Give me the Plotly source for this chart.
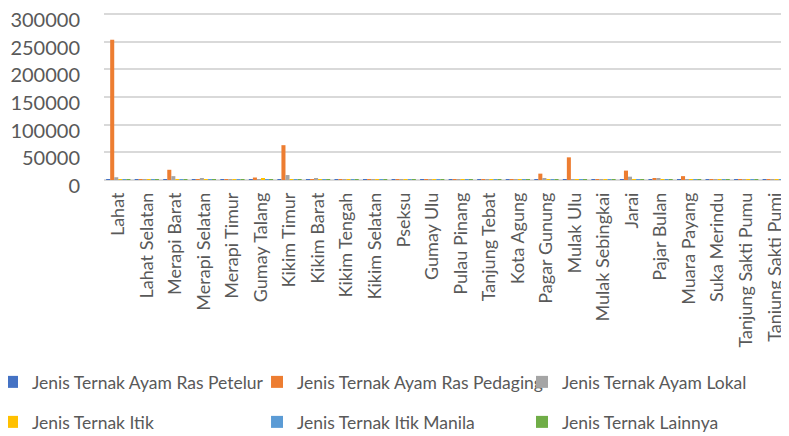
import plotly.graph_objects as go

kecamatan = ['Lahat', 'Lahat Selatan', 'Merapi Barat', 'Merapi Selatan', 'Merapi Timur',
             'Gumay Talang', 'Kikim Timur', 'Kikim Barat', 'Kikim Tengah', 'Kikim Selatan',
             'Pseksu', 'Gumay Ulu', 'Pulau Pinang', 'Tanjung Tebat', 'Kota Agung',
             'Pagar Gunung', 'Mulak Ulu', 'Mulak Sebingkai', 'Jarai', 'Pajar Bulan',
             'Muara Payang', 'Suka Merindu', 'Tanjung Sakti Pumu', 'Tanjung Sakti Pumi']

# nilai per jenis ternak (perkiraan)
ayam_ras_petelur = [600, 500, 600, 500, 500, 500, 600, 500, 500, 500, 500, 500,
                    500, 500, 500, 500, 500, 500, 500, 500, 500, 500, 500, 500]
ayam_ras_pedaging = [254000, 600, 18500, 800, 600, 4500, 63000, 800, 600, 800, 600, 1500,
                     1500, 700, 900, 11500, 41000, 800, 17000, 3500, 7000, 700, 700, 800]
ayam_lokal = [5000, 600, 7000, 3000, 800, 1500, 9000, 2000, 800, 1200, 900, 1200,
              1200, 900, 1000, 2000, 1500, 1200, 6000, 2500, 1500, 800, 800, 900]
itik = [1500, 700, 1500, 800, 700, 3500, 1500, 800, 700, 800, 700, 1500,
        1500, 800, 800, 1000, 800, 700, 1500, 1200, 1000, 800, 800, 1000]
itik_manila = [500, 500, 500, 500, 500, 500, 500, 500, 500, 500, 500, 500,
               500, 500, 500, 500, 500, 500, 500, 500, 500, 500, 500, 500]
lainnya = [600, 600, 600, 600, 600, 600, 600, 600, 600, 600, 600, 600,
           600, 600, 600, 600, 600, 600, 600, 600, 600, 600, 600, 600]

series = [
    ('Jenis Ternak Ayam Ras Petelur', ayam_ras_petelur, '#4472C4'),
    ('Jenis Ternak Ayam Ras Pedaging', ayam_ras_pedaging, '#ED7D31'),
    ('Jenis Ternak Ayam Lokal', ayam_lokal, '#A5A5A5'),
    ('Jenis Ternak Itik', itik, '#FFC000'),
    ('Jenis Ternak Itik Manila', itik_manila, '#5B9BD5'),
    ('Jenis Ternak Lainnya', lainnya, '#70AD47'),
]

# satu legenda per item supaya bisa diatur seperti di Excel (3 kolom, 2 baris)
leg_keys = ['legend2', 'legend', 'legend3', 'legend4', 'legend5', 'legend6']
leg_x = [-0.1635, 0.2234, 0.6102]
leg_y = [-1.2024, -1.4405]

fig = go.Figure()
legends = {}
for i, (nama, nilai, warna) in enumerate(series):
    key = leg_keys[i]
    fig.add_trace(go.Bar(x=kecamatan, y=nilai, name=nama, marker_color=warna,
                         marker_line_width=0, legend=key))
    legends[key] = dict(x=leg_x[i % 3], y=leg_y[i // 3], xanchor='left', yanchor='middle',
                        orientation='h', bgcolor='rgba(0,0,0,0)',
                        font=dict(family='Lato', size=17.5, color='#595959'))

# halaman punya margin body 8px, jadi ukuran figur dikurangi 8
fig.update_layout(
    width=781, height=428,
    margin=dict(l=96, r=0, t=4, b=256, autoexpand=False),
    paper_bgcolor='white', plot_bgcolor='white',
    barmode='group', bargap=0.15, bargroupgap=0,
    font=dict(family='Lato', color='#595959'),
    showlegend=True,
    **legends
)
fig.update_xaxes(tickangle=-90, tickfont=dict(size=18, color='#595959'), automargin=False,
                 showline=False, showgrid=False, ticks='', ticklabelstandoff=8)
# range sedikit di atas 300000 supaya garis grid teratas tetap digambar
fig.update_yaxes(range=[0, 304000], dtick=50000, tickformat='d', automargin=False,
                 tickfont=dict(size=20, color='#595959'),
                 ticks='outside', ticklen=19, tickcolor='rgba(0,0,0,0)',
                 ticklabelshift=6, ticklabeloverflow='allow',
                 showgrid=True, gridcolor='#D9D9D9', gridwidth=2,
                 zeroline=True, zerolinecolor='#D9D9D9', zerolinewidth=2)

fig.write_html("out.html")
